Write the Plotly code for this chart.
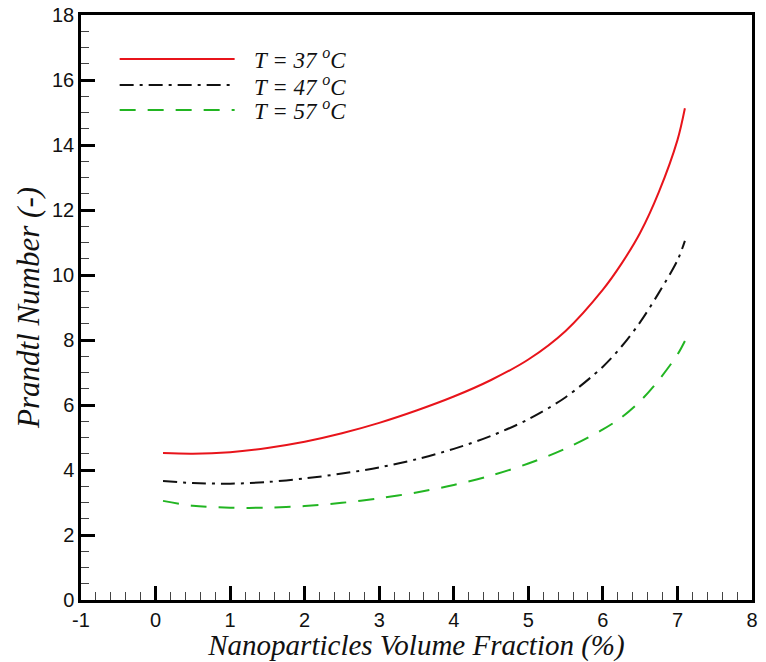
import plotly.graph_objects as go

# Data
volume_fraction = [0.1, 0.5, 1.0, 1.5, 2.0, 2.5, 3.0, 3.5, 4.0, 4.5, 5.0, 5.5, 6.0, 6.25, 6.5, 6.75, 7.0, 7.1]
pr_37 = [4.52, 4.50, 4.55, 4.68, 4.87, 5.13, 5.45, 5.83, 6.26, 6.77, 7.40, 8.28, 9.55, 10.35, 11.30, 12.55, 14.15, 15.13]
pr_47 = [3.66, 3.60, 3.58, 3.63, 3.74, 3.89, 4.08, 4.33, 4.65, 5.05, 5.56, 6.24, 7.18, 7.80, 8.55, 9.45, 10.45, 11.05]
pr_57 = [3.05, 2.90, 2.84, 2.84, 2.89, 2.99, 3.13, 3.31, 3.54, 3.83, 4.20, 4.66, 5.25, 5.62, 6.12, 6.77, 7.55, 7.97]

series_names = ["T = 37 <sup>o</sup>C", "T = 47 <sup>o</sup>C", "T = 57 <sup>o</sup>C"]
series_values = [pr_37, pr_47, pr_57]
series_colors = ["#e8141b", "#111111", "#22b522"]
series_dash = ["solid", "14px,6px,3px,6px", "16px,12px"]

x_ticks = [-1, 0, 1, 2, 3, 4, 5, 6, 7, 8]
y_ticks = [0, 2, 4, 6, 8, 10, 12, 14, 16, 18]

W, H = 766, 662
L, R, T, B = 81, 8, 15, 62
PW = W - L - R
PH = H - T - B

fig = go.Figure()
for name, vals, col, dash in zip(series_names, series_values, series_colors, series_dash):
    fig.add_trace(go.Scatter(
        x=volume_fraction, y=vals, mode="lines", name=name,
        line=dict(color=col, width=2, dash=dash, shape="spline", smoothing=0.9),
        showlegend=False,
    ))

# Manual legend (long line samples like the reference)
legend_rows_px = [59, 85, 110]
def px_x(p):
    return (p - L) / PW
def px_y(p):
    return (H - B - p) / PH

for name, col, dash, ry in zip(series_names, series_colors, series_dash, legend_rows_px):
    fig.add_shape(type="line", xref="paper", yref="paper",
                  x0=px_x(120), x1=px_x(236), y0=px_y(ry), y1=px_y(ry),
                  line=dict(color=col, width=2, dash=dash))
    fig.add_annotation(xref="paper", yref="paper", x=px_x(254), y=px_y(ry),
                       xanchor="left", yanchor="middle", showarrow=False,
                       text="<i>" + name + "</i>",
                       font=dict(family="Liberation Serif", size=23, color="#111111"))

axis_common = dict(
    showline=True, linecolor="black", linewidth=2.5, mirror=True,
    ticks="inside", tickcolor="black", tickwidth=2.5, ticklen=14,
    showgrid=False, zeroline=False,
    tickfont=dict(family="Liberation Sans", size=20, color="#111111"),
)

fig.update_xaxes(
    range=[-1, 8], tickvals=x_ticks, ticktext=[str(v) for v in x_ticks],
    minor=dict(dtick=0.2, ticks="inside", ticklen=8, tickwidth=1.2, tickcolor="#444444"),
    title=dict(text="<i>Nanoparticles Volume Fraction (%)</i>",
               font=dict(family="Liberation Serif", size=29, color="#111111"), standoff=6),
    automargin="left+right",
    **axis_common,
)
fig.update_yaxes(
    range=[0, 18], tickvals=y_ticks, ticktext=[str(v) for v in y_ticks],
    minor=dict(dtick=0.5, ticks="inside", ticklen=8, tickwidth=1.2, tickcolor="#444444"),
    title=dict(text="<i>Prandtl Number (-)</i>",
               font=dict(family="Liberation Serif", size=31, color="#111111"), standoff=4),
    automargin="left+right",
    **axis_common,
)

fig.update_layout(
    width=W, height=H,
    margin=dict(l=L, r=R, t=T, b=B),
    paper_bgcolor="white", plot_bgcolor="white",
    showlegend=False,
)

fig.write_html("out.html")
